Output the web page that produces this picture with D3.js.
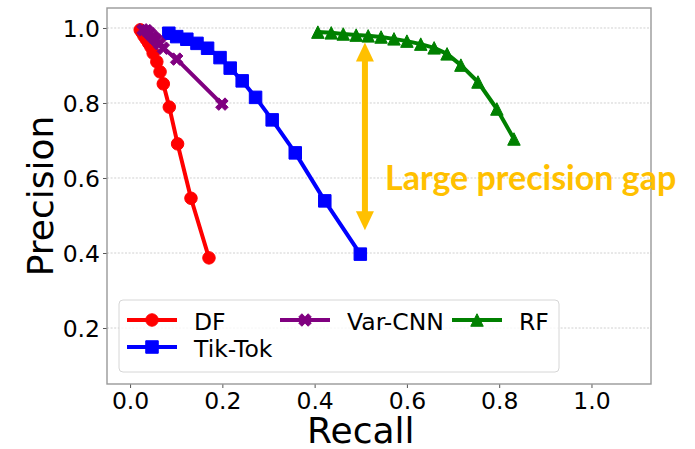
<!DOCTYPE html>
<html>
<head>
<meta charset="utf-8">
<script src="https://cdn.jsdelivr.net/npm/d3@7"></script>
<style>
  body { margin: 0; background: #fff; }
  svg { display: block; font-family: "DejaVu Sans", sans-serif; }
</style>
</head>
<body>
<div id="chart"></div>
<script>
// recall / precision pairs per attack
const dfRecall = [0.022, 0.026, 0.030, 0.035, 0.040, 0.045, 0.050, 0.058, 0.065, 0.072, 0.085, 0.103, 0.132, 0.171];
const dfPrecision = [0.995, 0.988, 0.979, 0.970, 0.960, 0.950, 0.933, 0.910, 0.883, 0.851, 0.789, 0.691, 0.546, 0.387];

const tiktokRecall = [0.084, 0.101, 0.123, 0.145, 0.168, 0.195, 0.217, 0.243, 0.272, 0.308, 0.358, 0.422, 0.499];
const tiktokPrecision = [0.986, 0.977, 0.970, 0.959, 0.946, 0.921, 0.893, 0.859, 0.815, 0.755, 0.667, 0.539, 0.397];

const varcnnRecall = [0.028, 0.036, 0.043, 0.050, 0.057, 0.064, 0.072, 0.101, 0.199];
const varcnnPrecision = [0.995, 0.993, 0.985, 0.976, 0.968, 0.958, 0.946, 0.917, 0.797];

const rfRecall = [0.407, 0.436, 0.462, 0.490, 0.516, 0.544, 0.572, 0.600, 0.630, 0.659, 0.687, 0.717, 0.754, 0.795, 0.832];
const rfPrecision = [0.989, 0.987, 0.984, 0.981, 0.979, 0.976, 0.971, 0.965, 0.957, 0.947, 0.931, 0.901, 0.856, 0.784, 0.704];

const seriesNames = ["DF", "Tik-Tok", "Var-CNN", "RF"];
const xTicks = [0.0, 0.2, 0.4, 0.6, 0.8, 1.0];
const yTicks = [0.2, 0.4, 0.6, 0.8, 1.0];

// gap annotation: arrow between these precision levels at this recall
const gapRecall = 0.509;
const gapTop = 0.961;
const gapBottom = 0.461;
const gapText = "Large precision gap";

const width = 695, height = 449;
const plot = { left: 107, right: 651, top: 8, bottom: 384 };

const svg = d3.select("#chart").append("svg")
  .attr("width", width)
  .attr("height", height);

const x = d3.scaleLinear().domain([-0.05, 1.129]).range([plot.left, plot.right]);
const y = d3.scaleLinear().domain([0.0507, 1.0533]).range([plot.bottom, plot.top]);

// grid
svg.append("g")
  .selectAll("line")
  .data(yTicks)
  .join("line")
  .attr("x1", plot.left).attr("x2", plot.right)
  .attr("y1", d => y(d)).attr("y2", d => y(d))
  .attr("stroke", "#c4c4c4")
  .attr("stroke-width", 0.8)
  .attr("stroke-dasharray", "2,1.6");

// axes
const xAxis = svg.append("g")
  .attr("transform", `translate(0,${plot.bottom})`)
  .call(d3.axisBottom(x).tickValues(xTicks).tickFormat(d3.format(".1f")).tickSize(4).tickPadding(4));
const yAxis = svg.append("g")
  .attr("transform", `translate(${plot.left},0)`)
  .call(d3.axisLeft(y).tickValues(yTicks).tickFormat(d3.format(".1f")).tickSize(4).tickPadding(3));

[xAxis, yAxis].forEach(ax => {
  ax.select(".domain").remove();
  ax.selectAll(".tick line").attr("stroke", "#555");
  ax.selectAll(".tick text")
    .attr("fill", "#000")
    .style("font-family", "DejaVu Sans")
    .style("font-size", "23.5px");
});
yAxis.selectAll(".tick text").attr("dy", "0.36em");

// frame
svg.append("rect")
  .attr("x", plot.left).attr("y", plot.top)
  .attr("width", plot.right - plot.left)
  .attr("height", plot.bottom - plot.top)
  .attr("fill", "none")
  .attr("stroke", "#999")
  .attr("stroke-width", 1.4);

// axis titles
svg.append("text")
  .attr("x", 360.8).attr("y", 443)
  .attr("text-anchor", "middle")
  .style("font-size", "36px")
  .text("Recall");
svg.append("text")
  .attr("transform", `translate(53,${(plot.top + plot.bottom) / 2}) rotate(-90)`)
  .attr("text-anchor", "middle")
  .style("font-size", "36px")
  .text("Precision");

// marker shapes, centred on 0,0
const ms = 12.5;
const xFilled = [[0.25, 0], [0.5, 0.25], [0.75, 0], [1, 0.25], [0.75, 0.5], [1, 0.75],
  [0.75, 1], [0.5, 0.75], [0.25, 1], [0, 0.75], [0.25, 0.5], [0, 0.25]]
  .map(p => [(p[0] - 0.5) * ms, (p[1] - 0.5) * ms]);
const markerPath = {
  circle: "M" + (ms / 2) + ",0A" + (ms / 2) + "," + (ms / 2) + " 0 1,1 " + (-ms / 2) + ",0A" + (ms / 2) + "," + (ms / 2) + " 0 1,1 " + (ms / 2) + ",0Z",
  square: `M${-ms / 2},${-ms / 2}h${ms}v${ms}h${-ms}Z`,
  cross: "M" + xFilled.map(p => p.join(",")).join("L") + "Z",
  triangle: `M0,${-ms / 2}L${ms / 2},${ms / 2}L${-ms / 2},${ms / 2}Z`
};

const series = [
  { name: seriesNames[0], recall: dfRecall, precision: dfPrecision, color: "#ff0000", marker: "circle" },
  { name: seriesNames[1], recall: tiktokRecall, precision: tiktokPrecision, color: "#0000ff", marker: "square" },
  { name: seriesNames[2], recall: varcnnRecall, precision: varcnnPrecision, color: "#800080", marker: "cross" },
  { name: seriesNames[3], recall: rfRecall, precision: rfPrecision, color: "#008000", marker: "triangle" }
];

const line = d3.line().x(d => x(d[0])).y(d => y(d[1]));

series.forEach(s => {
  const pts = d3.zip(s.recall, s.precision);
  const g = svg.append("g");
  g.append("path")
    .attr("d", line(pts))
    .attr("fill", "none")
    .attr("stroke", s.color)
    .attr("stroke-width", 4)
    .attr("stroke-linejoin", "round");
  g.selectAll("path.mk")
    .data(pts)
    .join("path")
    .attr("class", "mk")
    .attr("transform", d => `translate(${x(d[0])},${y(d[1])})`)
    .attr("d", markerPath[s.marker])
    .attr("fill", s.color)
    .attr("stroke", s.color)
    .attr("stroke-width", 1);
});

// precision gap arrow
const gold = "#ffc000";
const ax0 = x(gapRecall), ayTop = y(gapTop), ayBot = y(gapBottom);
const headW = 9, headL = 19;
svg.append("line")
  .attr("x1", ax0).attr("x2", ax0)
  .attr("y1", ayTop + headL - 2).attr("y2", ayBot - headL + 2)
  .attr("stroke", gold)
  .attr("stroke-width", 6);
svg.append("path")
  .attr("d", `M${ax0},${ayTop}L${ax0 + headW},${ayTop + headL}L${ax0 - headW},${ayTop + headL}Z`)
  .attr("fill", gold);
svg.append("path")
  .attr("d", `M${ax0},${ayBot}L${ax0 + headW},${ayBot - headL}L${ax0 - headW},${ayBot - headL}Z`)
  .attr("fill", gold);
svg.append("text")
  .attr("x", 385).attr("y", 190)
  .attr("fill", gold)
  .style("font-family", "Lato, 'Open Sans', sans-serif")
  .style("font-weight", "bold")
  .style("font-size", "34px")
  .text(gapText);

// legend: three columns, filled column by column
const legend = svg.append("g");
legend.append("rect")
  .attr("x", 119).attr("y", 300)
  .attr("width", 440).attr("height", 72)
  .attr("rx", 4)
  .attr("fill", "#fff").attr("fill-opacity", 0.8)
  .attr("stroke", "#d6d6d6");

const colX = [127, 280, 452];
const rowY = [320, 347];
const slots = [[0, 0], [0, 1], [1, 0], [2, 0]];
series.forEach((s, i) => {
  const lx = colX[slots[i][0]], ly = rowY[slots[i][1]];
  legend.append("line")
    .attr("x1", lx).attr("x2", lx + 50)
    .attr("y1", ly).attr("y2", ly)
    .attr("stroke", s.color)
    .attr("stroke-width", 4);
  legend.append("path")
    .attr("transform", `translate(${lx + 25},${ly})`)
    .attr("d", markerPath[s.marker])
    .attr("fill", s.color)
    .attr("stroke", s.color)
    .attr("stroke-width", 1);
  legend.append("text")
    .attr("x", lx + 67).attr("y", ly + 9.5)
    .style("font-size", "23.5px")
    .text(s.name);
});
</script>
</body>
</html>
